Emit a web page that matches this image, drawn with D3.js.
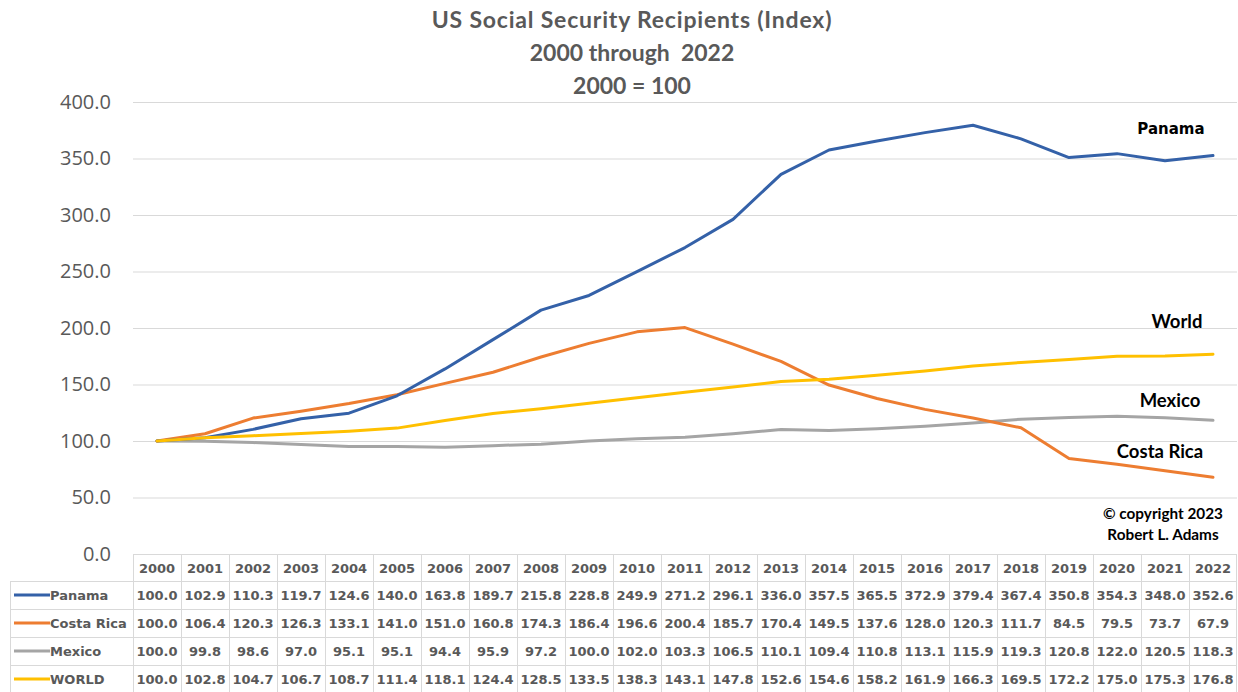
<!DOCTYPE html>
<html>
<head>
<meta charset="utf-8">
<script src="https://cdn.jsdelivr.net/npm/d3@7"></script>
<style>
  html, body { margin: 0; padding: 0; background: #ffffff; }
  svg { display: block; }
</style>
</head>
<body>
<svg id="chart" width="1238" height="692"></svg>
<script>
// Years covered by the index
const years = ["2000","2001","2002","2003","2004","2005","2006","2007","2008","2009","2010","2011",
               "2012","2013","2014","2015","2016","2017","2018","2019","2020","2021","2022"];

// Index values, 2000 = 100
const panama = [100.0,102.9,110.3,119.7,124.6,140.0,163.8,189.7,215.8,228.8,249.9,271.2,
                296.1,336.0,357.5,365.5,372.9,379.4,367.4,350.8,354.3,348.0,352.6];
const costaRica = [100.0,106.4,120.3,126.3,133.1,141.0,151.0,160.8,174.3,186.4,196.6,200.4,
                   185.7,170.4,149.5,137.6,128.0,120.3,111.7,84.5,79.5,73.7,67.9];
const mexico = [100.0,99.8,98.6,97.0,95.1,95.1,94.4,95.9,97.2,100.0,102.0,103.3,
                106.5,110.1,109.4,110.8,113.1,115.9,119.3,120.8,122.0,120.5,118.3];
const world = [100.0,102.8,104.7,106.7,108.7,111.4,118.1,124.4,128.5,133.5,138.3,143.1,
               147.8,152.6,154.6,158.2,161.9,166.3,169.5,172.2,175.0,175.3,176.8];

const seriesNames = ["Panama", "Costa Rica", "Mexico", "WORLD"];
const yTicks = [0, 50, 100, 150, 200, 250, 300, 350, 400];

const seriesTable = [
  { name: seriesNames[0], values: panama,    color: "#3461a8" },
  { name: seriesNames[1], values: costaRica, color: "#ed7d31" },
  { name: seriesNames[2], values: mexico,    color: "#a5a5a5" },
  { name: seriesNames[3], values: world,     color: "#ffc000" }
];

const svg = d3.select("#chart");
const textGray = "#595959";
const gridGray = "#d9d9d9";

const plotLeft = 133, plotRight = 1237;
const x = d3.scaleBand().domain(years).range([plotLeft, plotRight]).padding(0);
const y = d3.scaleLinear().domain([0, 400]).range([554, 102]);
const cx = d => x(d) + x.bandwidth() / 2;

// Title
const title = svg.append("g")
  .attr("font-family", "Lato, 'Open Sans', sans-serif")
  .attr("font-weight", "bold")
  .attr("font-size", 23)
  .attr("fill", textGray)
  .attr("text-anchor", "middle");
["US Social Security Recipients (Index)", "2000 through  2022", "2000 = 100"].forEach((t, i) => {
  title.append("text").attr("x", 632).attr("y", 28 + i * 33)
    .attr("xml:space", "preserve")
    .attr("letter-spacing", i === 0 ? 0.8 : 0)
    .text(t);
});

// Gridlines and y-axis
const yAxis = d3.axisLeft(y).tickValues(yTicks).tickFormat(d3.format(".1f"))
  .tickSize(-(plotRight - plotLeft)).tickPadding(22);
const yg = svg.append("g").attr("transform", `translate(${plotLeft},0)`).call(yAxis);
yg.select(".domain").remove();
yg.selectAll(".tick line").attr("stroke", gridGray).attr("stroke-width", 1);
yg.selectAll(".tick").filter(d => d === 0).select("line").remove();
yg.selectAll(".tick text")
  .attr("font-family", "'Open Sans', sans-serif")
  .attr("font-size", 20)
  .attr("fill", textGray);

// Series lines (World drawn on top)
const line = d3.line().x((d, i) => cx(years[i])).y(d => y(d));
const drawOrder = [seriesTable[2], seriesTable[1], seriesTable[0], seriesTable[3]];
svg.append("g").selectAll("path")
  .data(drawOrder)
  .join("path")
  .attr("d", s => line(s.values))
  .attr("fill", "none")
  .attr("stroke", s => s.color)
  .attr("stroke-width", 3)
  .attr("stroke-linejoin", "round")
  .attr("stroke-linecap", "round");

// Line labels
const lab = svg.append("g").attr("fill", "#000").attr("text-anchor", "middle").attr("font-weight", "bold");
lab.append("text").attr("x", 1171).attr("y", 134)
  .attr("font-family", "'DejaVu Sans', sans-serif").attr("font-size", 15).text("Panama");
lab.append("text").attr("x", 1177).attr("y", 328)
  .attr("font-family", "Lato, sans-serif").attr("font-size", 18.5).text("World");
lab.append("text").attr("x", 1170).attr("y", 407)
  .attr("font-family", "Lato, sans-serif").attr("font-size", 18.5).text("Mexico");
lab.append("text").attr("x", 1160).attr("y", 458)
  .attr("font-family", "Lato, sans-serif").attr("font-size", 18.5).text("Costa Rica");

// Copyright note
const note = svg.append("g").attr("fill", "#000").attr("text-anchor", "middle")
  .attr("font-family", "Lato, sans-serif").attr("font-weight", "bold").attr("font-size", 15.3);
note.append("text").attr("x", 1163).attr("y", 519).text("\u00a9 copyright 2023");
note.append("text").attr("x", 1163).attr("y", 540).text("Robert L. Adams");

// Data table
const tableTop = 554, headerH = 27, rowH = 28, legendLeft = 10;
const rowTop = i => tableTop + headerH + i * rowH;
const table = svg.append("g")
  .attr("font-family", "'DejaVu Sans', sans-serif")
  .attr("font-weight", "bold")
  .attr("font-size", 13)
  .attr("fill", textGray);

// table borders
const tableBottom = rowTop(seriesTable.length);
const borders = table.append("g").attr("stroke", gridGray).attr("stroke-width", 1).attr("fill", "none");
borders.append("line").attr("x1", plotLeft).attr("x2", plotRight).attr("y1", tableTop + 0.5).attr("y2", tableTop + 0.5);
d3.range(seriesTable.length + 1).forEach(i => {
  borders.append("line").attr("x1", legendLeft).attr("x2", plotRight)
    .attr("y1", rowTop(i) + 0.5).attr("y2", rowTop(i) + 0.5);
});
years.forEach(yr => {
  borders.append("line").attr("x1", Math.round(x(yr)) + 0.5).attr("x2", Math.round(x(yr)) + 0.5)
    .attr("y1", tableTop).attr("y2", tableBottom);
});
borders.append("line").attr("x1", plotRight - 0.5).attr("x2", plotRight - 0.5).attr("y1", tableTop).attr("y2", tableBottom);
borders.append("line").attr("x1", legendLeft + 0.5).attr("x2", legendLeft + 0.5).attr("y1", rowTop(0)).attr("y2", tableBottom);

// header years
table.append("g").attr("text-anchor", "middle").selectAll("text")
  .data(years).join("text")
  .attr("x", d => cx(d))
  .attr("y", tableTop + headerH / 2 + 5)
  .text(d => d);

// rows: legend key, series name, values
seriesTable.forEach((s, i) => {
  const ty = rowTop(i) + rowH / 2 + 5;
  table.append("line")
    .attr("x1", 14).attr("x2", 50)
    .attr("y1", rowTop(i) + rowH / 2).attr("y2", rowTop(i) + rowH / 2)
    .attr("stroke", s.color).attr("stroke-width", 3);
  table.append("text").attr("x", 50).attr("y", ty).text(s.name);
  table.append("g").attr("text-anchor", "middle").selectAll("text")
    .data(s.values).join("text")
    .attr("x", (d, j) => cx(years[j]))
    .attr("y", ty)
    .text(d => d.toFixed(1));
});
</script>
</body>
</html>
